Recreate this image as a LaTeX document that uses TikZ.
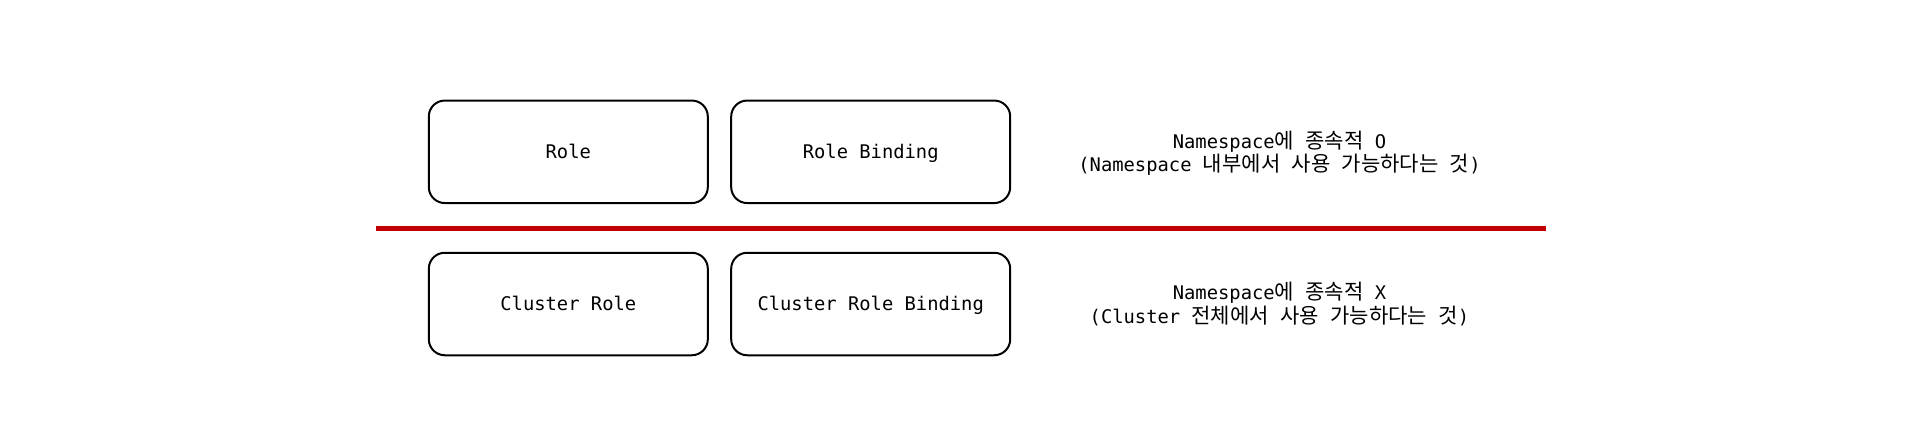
\documentclass[tikz,border=0pt]{standalone}
\usepackage{fontspec}
\setmonofont{DejaVu Sans Mono}
\newfontfamily\krfont[Scale=1.12]{Noto Sans CJK KR}
\newcommand\K[1]{{\krfont #1}}
\definecolor{sepred}{HTML}{C00000}
\begin{document}
\begin{tikzpicture}[x=1pt,y=-1pt,
  every node/.style={font=\ttfamily\fontsize{18.8pt}{23.5pt}\selectfont},
  rolebox/.style={draw=black,line width=2pt,rounded corners=16pt,
    minimum width=279pt,minimum height=102.5pt,inner sep=0pt,align=center,
    text height=13.7pt,text depth=0pt},
  note/.style={align=center,inner sep=0pt}]
\useasboundingbox[fill=white] (0,0) rectangle (1920,432);
\node[rolebox] (role) at (568.3,151.8) {Role};
\node[rolebox] (rb) at (870.7,151.8) {Role Binding};
\node[rolebox] (crole) at (568.3,304) {Cluster Role};
\node[rolebox] (crb) at (870.7,304) {Cluster Role Binding};
\node[note] (ns1) at (1279.5,153.4) {Namespace\K{에} \K{종속적} O\\(Namespace \K{내부에서} \K{사용} \K{가능하다는} \K{것})};
\node[note] (ns2) at (1279.5,304.2) {Namespace\K{에} \K{종속적} X\\(Cluster \K{전체에서} \K{사용} \K{가능하다는} \K{것})};
\coordinate (ls) at (376,228.5);
\coordinate (le) at (1546,228.5);
\draw[sepred,line width=5pt] (ls) -- (le);
\end{tikzpicture}
\end{document}
